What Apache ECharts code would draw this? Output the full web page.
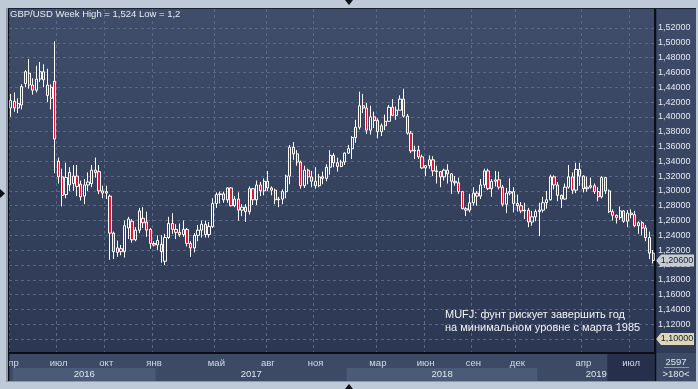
<!DOCTYPE html>
<html><head><meta charset="utf-8">
<script src="https://cdn.jsdelivr.net/npm/echarts@6/dist/echarts.min.js"></script>
<style>html,body{margin:0;padding:0;background:#bfcad8;}#c{width:698px;height:389px;}</style>
</head><body><div id="c"></div>
<script>
const titleText = 'GBP/USD Week High = 1,524 Low = 1,2';
const noteLines = ['MUFJ: фунт рискует завершить год', 'на минимальном уровне с марта 1985'];
const firstWeek = '2016-03-28';
const openP = [
1.412,1.421,1.412,1.416,1.445,1.459,1.443,1.436,1.451,1.461,
1.443,1.425,1.448,1.340,1.319,1.295,1.325,1.310,1.320,1.309,
1.293,1.308,1.310,1.328,1.326,1.300,1.297,1.293,1.243,1.217,
1.222,1.218,1.250,1.259,1.234,1.247,1.263,1.258,1.248,1.229,
1.227,1.228,1.205,1.237,1.256,1.248,1.244,1.241,1.248,1.229,
1.223,1.240,1.247,1.255,1.241,1.252,1.283,1.295,1.296,1.288,
1.304,1.280,1.289,1.274,1.278,1.272,1.303,1.288,1.308,1.300,
1.313,1.304,1.301,1.288,1.289,1.299,1.320,1.359,1.350,1.339,
1.307,1.328,1.319,1.313,1.307,1.319,1.317,1.332,1.348,1.338,
1.333,1.339,1.351,1.357,1.372,1.386,1.415,1.412,1.382,1.400,
1.395,1.380,1.388,1.394,1.413,1.402,1.409,1.424,1.401,1.378,
1.354,1.355,1.346,1.331,1.334,1.342,1.327,1.326,1.319,1.328,
1.323,1.313,1.311,1.299,1.276,1.274,1.284,1.297,1.293,1.308,
1.327,1.303,1.313,1.315,1.305,1.282,1.297,1.299,1.283,1.280,
1.273,1.274,1.258,1.265,1.272,1.274,1.284,1.288,1.319,1.308,
1.294,1.289,1.305,1.319,1.301,1.329,1.320,1.303,1.305,1.307,
1.299,1.292,1.318,1.300,1.272,1.267,1.264,1.273,1.259,1.270,
1.268,1.253,1.257,1.250,1.237,1.216];
const closeP = [
1.422,1.412,1.418,1.441,1.461,1.443,1.436,1.451,1.461,1.450,
1.429,1.440,1.370,1.319,1.294,1.318,1.308,1.320,1.306,1.292,
1.308,1.312,1.328,1.325,1.300,1.297,1.299,1.243,1.218,1.223,
1.218,1.253,1.262,1.234,1.247,1.273,1.257,1.247,1.229,1.227,
1.233,1.218,1.237,1.256,1.248,1.244,1.241,1.248,1.229,1.223,
1.240,1.247,1.255,1.241,1.252,1.283,1.295,1.296,1.288,1.304,
1.280,1.289,1.274,1.278,1.272,1.303,1.288,1.308,1.300,1.313,
1.304,1.301,1.288,1.289,1.299,1.320,1.359,1.350,1.339,1.307,
1.328,1.319,1.313,1.307,1.319,1.317,1.332,1.348,1.338,1.333,
1.339,1.351,1.357,1.372,1.386,1.415,1.412,1.382,1.400,1.395,
1.380,1.388,1.394,1.413,1.402,1.409,1.424,1.401,1.378,1.354,
1.355,1.346,1.331,1.334,1.342,1.327,1.326,1.319,1.328,1.323,
1.313,1.311,1.299,1.276,1.274,1.284,1.297,1.293,1.308,1.327,
1.303,1.313,1.315,1.305,1.282,1.297,1.299,1.283,1.280,1.273,
1.274,1.258,1.265,1.272,1.274,1.284,1.288,1.319,1.308,1.294,
1.289,1.305,1.319,1.301,1.329,1.320,1.303,1.305,1.307,1.299,
1.292,1.318,1.300,1.272,1.267,1.264,1.273,1.259,1.270,1.268,
1.253,1.257,1.250,1.237,1.216,1.206];
const lowP = [
1.400,1.407,1.405,1.410,1.440,1.438,1.430,1.433,1.447,1.440,
1.420,1.410,1.324,1.310,1.279,1.290,1.300,1.300,1.293,1.287,
1.282,1.300,1.305,1.318,1.296,1.290,1.289,1.207,1.208,1.211,
1.213,1.210,1.235,1.230,1.232,1.243,1.250,1.238,1.222,1.225,
1.220,1.203,1.200,1.235,1.242,1.235,1.238,1.238,1.225,1.211,
1.217,1.232,1.237,1.237,1.237,1.250,1.277,1.283,1.284,1.284,
1.279,1.278,1.260,1.266,1.258,1.268,1.281,1.281,1.293,1.294,
1.300,1.294,1.282,1.278,1.282,1.290,1.309,1.342,1.334,1.303,
1.304,1.309,1.305,1.303,1.305,1.309,1.313,1.322,1.332,1.326,
1.332,1.335,1.350,1.343,1.365,1.383,1.405,1.377,1.376,1.385,
1.371,1.374,1.382,1.393,1.401,1.396,1.409,1.399,1.376,1.351,
1.343,1.343,1.330,1.320,1.330,1.320,1.310,1.305,1.314,1.310,
1.296,1.307,1.296,1.275,1.266,1.271,1.280,1.280,1.289,1.304,
1.301,1.292,1.306,1.302,1.279,1.270,1.294,1.271,1.272,1.270,
1.262,1.251,1.253,1.259,1.239,1.271,1.276,1.287,1.302,1.286,
1.277,1.288,1.303,1.296,1.297,1.307,1.298,1.299,1.303,1.296,
1.286,1.290,1.296,1.270,1.260,1.256,1.261,1.257,1.251,1.263,
1.251,1.242,1.240,1.232,1.208,1.202];
const highP = [
1.431,1.433,1.425,1.444,1.463,1.478,1.452,1.469,1.474,1.471,
1.465,1.444,1.502,1.345,1.330,1.338,1.332,1.335,1.335,1.314,
1.316,1.325,1.335,1.345,1.335,1.307,1.307,1.295,1.245,1.233,
1.227,1.260,1.265,1.262,1.251,1.277,1.278,1.272,1.250,1.232,
1.240,1.240,1.242,1.265,1.270,1.255,1.256,1.260,1.250,1.232,
1.243,1.254,1.260,1.260,1.258,1.290,1.298,1.299,1.299,1.305,
1.305,1.293,1.298,1.282,1.282,1.306,1.304,1.314,1.312,1.317,
1.327,1.306,1.303,1.292,1.302,1.322,1.362,1.366,1.355,1.341,
1.334,1.330,1.327,1.332,1.323,1.326,1.336,1.355,1.351,1.345,
1.342,1.352,1.362,1.374,1.396,1.434,1.431,1.419,1.415,1.407,
1.398,1.391,1.403,1.416,1.424,1.414,1.429,1.438,1.404,1.381,
1.361,1.361,1.349,1.335,1.348,1.347,1.334,1.327,1.330,1.336,
1.324,1.320,1.318,1.300,1.278,1.296,1.305,1.300,1.316,1.330,
1.330,1.316,1.327,1.326,1.308,1.304,1.317,1.305,1.295,1.285,
1.284,1.277,1.273,1.275,1.284,1.292,1.300,1.322,1.321,1.312,
1.295,1.310,1.335,1.325,1.338,1.338,1.321,1.319,1.318,1.310,
1.305,1.320,1.318,1.302,1.275,1.268,1.279,1.274,1.274,1.275,
1.273,1.259,1.259,1.254,1.245,1.220];
const yTicks = [1.10,1.12,1.14,1.16,1.18,1.20,1.22,1.24,1.26,1.28,1.30,1.32,1.34,1.36,1.38,1.40,1.42,1.44,1.46,1.48,1.50,1.52];
const monthTickIndex = [0,13,26,39,56,70,83,100,113,126,138,156,169];
const monthTickLabel = ['апр','июл','окт','янв','май','авг','ноя','мар','июн','сен','дек','апр','июл'];
const yearLabels = ['2016','2017','2018','2019'];
const yearStartIndex = [1,40,92,144];
const lastPrice = 1.206;
const levelPrice = 1.10;
const levelStartIndex = 163;
const counterText = ['2597', '>180<'];

// weekly category labels
const weeks = [];
{
  let t = Date.parse(firstWeek + 'T00:00:00Z');
  for (let i = 0; i < openP.length; i++) { weeks.push(new Date(t).toISOString().slice(0, 10)); t += 7 * 86400000; }
}
const candleData = openP.map((o, i) => [o, closeP[i], lowP[i], highP[i]]);
const N = weeks.length;
const FONT = '"Liberation Sans", Arial, sans-serif';
const fmt = v => v.toFixed(5).replace('.', ',');

const GL = 9, GR = 655, GT = 9, GB = 353;
const yMin = 1.10 - (GB - 339) / 740.5;
const yMax = 1.52 + (28 - GT) / 740.5;

const chart = echarts.init(document.getElementById('c'));
const arrowPath = 'path://M0,6L5,0L38,0L38,12L5,12Z';
chart.setOption({
  backgroundColor: '#bfcad8',
  animation: false,
  title: { text: titleText, left: 10, top: 9.5, padding: 0,
    textStyle: { color: '#e6ecf5', fontSize: 9.5, fontWeight: 'normal', fontFamily: FONT } },
  grid: { left: GL, right: 698 - GR, top: GT, bottom: 389 - GB, show: false },
  xAxis: {
    type: 'category', data: weeks, boundaryGap: true,
    axisLine: { show: true, lineStyle: { color: '#0b0f17', width: 2 } },
    axisTick: { show: false },
    axisLabel: {
      interval: (i) => monthTickIndex.indexOf(i) >= 0,
      formatter: (v, i) => { const j = monthTickIndex.indexOf(i); return j >= 0 ? monthTickLabel[j] : ''; },
      color: (v, i) => (i === monthTickIndex[monthTickIndex.length - 1] ? '#6b7892' : '#d3dbe6'),
      fontSize: 9.5, margin: 5, fontFamily: FONT, hideOverlap: false
    },
    splitLine: { show: true, interval: (i) => monthTickIndex.indexOf(i) >= 0,
      lineStyle: { color: '#5a6885', type: [3, 3], width: 1 } }
  },
  yAxis: {
    type: 'value', position: 'right', min: yMin, max: yMax,
    axisLine: { show: true, lineStyle: { color: '#0b0f17', width: 2 } },
    axisTick: { show: false, customValues: yTicks },
    axisLabel: { customValues: yTicks, formatter: fmt, color: '#e3e9f2', fontSize: 9, margin: 3, fontFamily: FONT },
    splitLine: { show: true, lineStyle: { color: '#5a6885', type: [3, 3], width: 1 } }
  },
  series: [{
    type: 'candlestick', data: candleData, barWidth: 2.7, clip: false,
    itemStyle: { color: 'rgba(0,0,0,0)', color0: '#e5132f', borderColor: '#ffffff', borderColor0: '#ffffff', borderWidth: 1 },
    markLine: { silent: true, symbol: ['none', 'none'], label: { show: false },
      lineStyle: { color: '#e3222e', type: [3, 3], width: 1 },
      data: [[{ coord: [weeks[levelStartIndex], levelPrice] }, { coord: [weeks[N - 1], levelPrice] }]] },
    markPoint: { silent: true, symbol: arrowPath, symbolSize: [38, 12], symbolKeepAspect: false,
      data: [
        { coord: [weeks[N - 1], lastPrice], itemStyle: { color: '#c9cdd2' },
          label: { show: true, formatter: fmt(lastPrice), color: '#18202e', fontSize: 9, fontFamily: FONT, offset: [2, 0] } },
        { coord: [weeks[N - 1], levelPrice], itemStyle: { color: '#dcd7b8' },
          label: { show: true, formatter: fmt(levelPrice), color: '#18202e', fontSize: 9, fontFamily: FONT, offset: [2, 0] } }
      ] }
  }]
});

// decoration derived from axis positions
const cx = k => chart.convertToPixel({ xAxisIndex: 0 }, weeks[k]);
const bw = cx(1) - cx(0);
const edge = k => (k >= N ? GR : cx(k) - bw / 2);
const markOffset = (GR + 1 + 19) - cx(N - 1);
chart.setOption({ series: [{ markPoint: { symbolOffset: [markOffset, 0] } }] });

const g = [];
// plot and right panel backgrounds
g.push({ type: 'rect', z: -10, shape: { x: GL, y: GT, width: GR - GL, height: GB - GT },
  style: { fill: new echarts.graphic.LinearGradient(0, 0, 0, 1, [{ offset: 0, color: '#404d6a' }, { offset: 1, color: '#2c3853' }]) } });
g.push({ type: 'rect', z: -10, shape: { x: GR, y: GT, width: 696 - GR, height: GB - GT },
  style: { fill: new echarts.graphic.LinearGradient(0, 0, 0, 1, [{ offset: 0, color: '#3f4c69' }, { offset: 1, color: '#303c58' }]) } });
// axis band
g.push({ type: 'rect', z: -10, shape: { x: GL, y: GB, width: 696 - GL, height: 381 - GB }, style: { fill: '#3c4a66' } });
for (let i = 0; i < yearLabels.length; i++) {
  const x0 = edge(yearStartIndex[i]);
  const x1 = i + 1 < yearLabels.length ? edge(yearStartIndex[i + 1]) : GR;
  g.push({ type: 'rect', z: -9, shape: { x: x0, y: 368, width: x1 - x0, height: 13 },
    style: { fill: i % 2 === 0 ? '#4b5a77' : '#3c4a66' } });
  g.push({ type: 'text', z: 5, x: (x0 + x1) / 2, y: 374.5,
    style: { text: yearLabels[i], fill: '#dfe6ef', font: '9.5px ' + FONT, align: 'center', verticalAlign: 'middle' } });
}
g.push({ type: 'rect', z: -8, shape: { x: edge(levelStartIndex), y: GB, width: GR - edge(levelStartIndex), height: 381 - GB }, style: { fill: '#26304a' } });
// counter box
g.push({ type: 'text', z: 5, x: 676, y: 362, style: { text: counterText[0], fill: '#dfe6ef', font: '9.5px ' + FONT, align: 'center', verticalAlign: 'middle' } });
g.push({ type: 'line', z: 5, shape: { x1: 664, y1: 367.5, x2: 689, y2: 367.5 }, style: { stroke: '#8b97ab', lineWidth: 1 } });
g.push({ type: 'text', z: 5, x: 676, y: 374.5, style: { text: counterText[1], fill: '#dfe6ef', font: '9.5px ' + FONT, align: 'center', verticalAlign: 'middle' } });
// annotation
g.push({ type: 'text', z: 5, x: 445, y: 308.5, style: { text: noteLines.join('\n'), fill: '#f2f4f8', font: '11px ' + FONT, lineHeight: 13 } });
// frame overlays
g.push({ type: 'rect', z: 10, shape: { x: 0, y: 0, width: 8, height: 389 }, style: { fill: '#bfcad8' } });
g.push({ type: 'rect', z: 10, shape: { x: 0, y: 381, width: 698, height: 8 }, style: { fill: '#bfcad8' } });
g.push({ type: 'rect', z: 10, shape: { x: 696, y: 0, width: 2, height: 389 }, style: { fill: '#bfcad8' } });
g.push({ type: 'line', z: 11, shape: { x1: 8.5, y1: 8, x2: 8.5, y2: 381 }, style: { stroke: '#0b0f17', lineWidth: 1.5 } });
g.push({ type: 'line', z: 11, shape: { x1: 8, y1: 8.5, x2: 696, y2: 8.5 }, style: { stroke: '#1a2130', lineWidth: 1 } });
g.push({ type: 'line', z: 11, shape: { x1: 6.5, y1: 8, x2: 6.5, y2: 382 }, style: { stroke: '#8d99ab', lineWidth: 1 } });
g.push({ type: 'line', z: 11, shape: { x1: 6, y1: 381.5, x2: 696, y2: 381.5 }, style: { stroke: '#8d99ab', lineWidth: 1 } });
g.push({ type: 'line', z: 11, shape: { x1: GR + 0.5, y1: GT, x2: GR + 0.5, y2: 381 }, style: { stroke: '#0b0f17', lineWidth: 1.5 } });
// triangles
g.push({ type: 'polygon', z: 11, shape: { points: [[345, 0], [353, 0], [349, 5]] }, style: { fill: '#0b0f17' } });
g.push({ type: 'polygon', z: 11, shape: { points: [[345, 389], [353, 389], [349, 384]] }, style: { fill: '#0b0f17' } });
g.push({ type: 'polygon', z: 11, shape: { points: [[0, 189], [0, 198], [5, 193.5]] }, style: { fill: '#0b0f17' } });
chart.setOption({ graphic: g });
</script></body></html>
